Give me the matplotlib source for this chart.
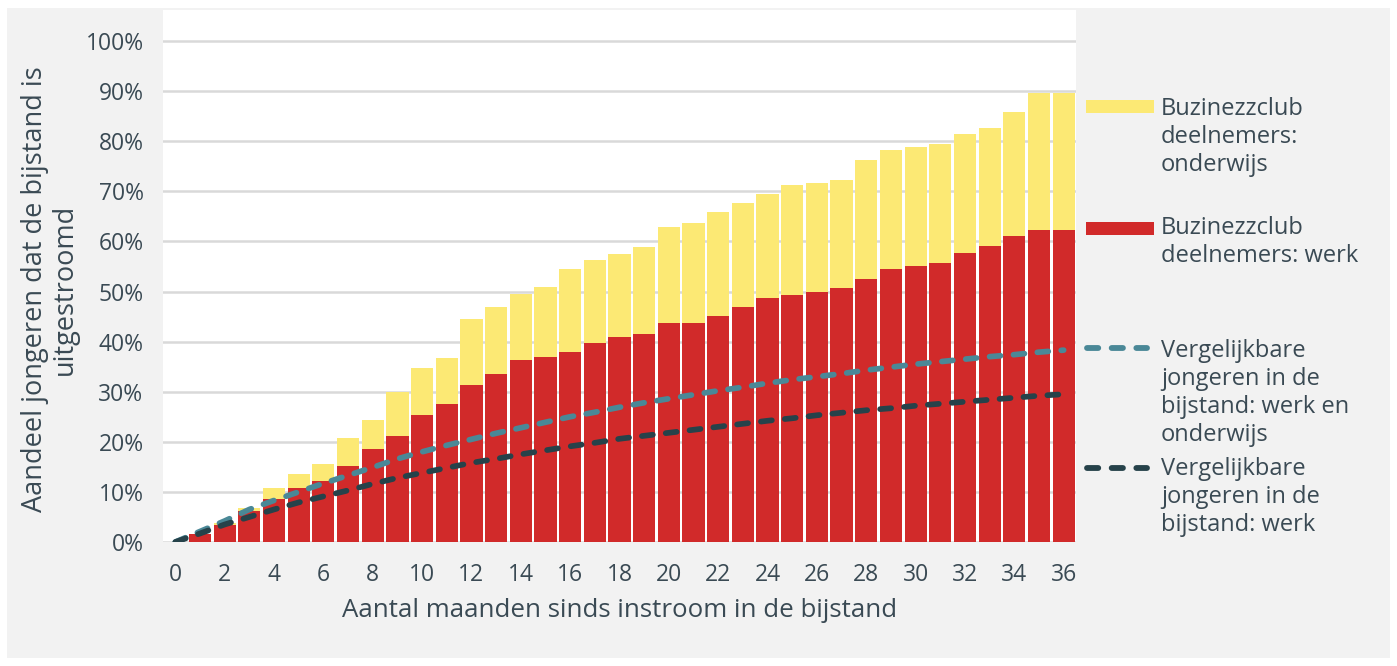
import matplotlib.pyplot as plt
from matplotlib.patches import Rectangle
from matplotlib.lines import Line2D

# months since entering welfare (bars start at month 1)
months = list(range(1, 37))
werk = [1.5, 3.3, 6.2, 8.6, 10.7, 12.2, 15.1, 18.6, 21.1, 25.4, 27.5, 31.3,
        33.5, 36.3, 36.9, 38.0, 39.7, 40.9, 41.5, 43.8, 43.8, 45.1, 46.9, 48.8,
        49.4, 50.0, 50.7, 52.6, 54.5, 55.1, 55.7, 57.7, 59.1, 61.0, 62.2, 62.2]
onderwijs = [0.0, 0.4, 0.5, 2.1, 2.9, 3.4, 5.7, 5.8, 8.8, 9.3, 9.3, 13.3,
             13.4, 13.3, 14.1, 16.4, 16.5, 16.5, 17.4, 19.0, 19.9, 20.7, 20.8, 20.7,
             21.8, 21.7, 21.6, 23.7, 23.7, 23.7, 23.8, 23.8, 23.6, 24.9, 27.5, 27.5]

# comparison group, months 0..36
line_months = list(range(0, 37))
verg_werk_onderwijs = [0, 2.1, 4.2, 6.5, 8.3, 10.0, 11.7, 13.3, 14.9, 16.6, 18.0, 19.3,
                       20.5, 21.7, 22.8, 23.9, 25.0, 25.9, 26.9, 27.8, 28.6, 29.4, 30.2,
                       30.9, 31.7, 32.4, 33.0, 33.6, 34.3, 34.9, 35.5, 36.0, 36.5, 37.0,
                       37.4, 37.9, 38.3]
verg_werk = [0, 1.7, 3.5, 5.0, 6.5, 7.9, 9.1, 10.3, 11.6, 12.8, 13.8, 14.8,
             15.8, 16.6, 17.5, 18.3, 19.1, 19.8, 20.6, 21.2, 21.8, 22.4, 23.0,
             23.6, 24.2, 24.7, 25.3, 25.8, 26.3, 26.7, 27.2, 27.6, 28.0, 28.4,
             28.8, 29.2, 29.5]

RED = '#d12a2a'
YELLOW = '#fce974'
TEAL = '#4a8897'
DARK = '#26424a'
TXT = '#3a4a54'
GRID = '#d9d9d9'

plt.rcParams['font.family'] = ['Open Sans', 'DejaVu Sans']

W, H = 1397, 666
fig = plt.figure(figsize=(W / 100, H / 100), dpi=100, facecolor='white')
fig.patches.append(Rectangle((7 / W, 8 / H), 1383 / W, 650 / H, transform=fig.transFigure,
                             facecolor='#f2f2f2', edgecolor='none', zorder=-10))

ax = fig.add_axes([163 / W, (H - 542) / H, 913 / W, 532 / H])
ax.set_facecolor('white')

ax.bar(months, werk, width=0.9, color=RED, zorder=2)
ax.bar(months, onderwijs, bottom=werk, width=0.9, color=YELLOW, zorder=2)

dash_kw = dict(linewidth=4.1, linestyle=(0, (1.93, 2.28)), dash_capstyle='round', zorder=3)
ax.plot(line_months, verg_werk_onderwijs, color=TEAL, **dash_kw)
ax.plot(line_months, verg_werk, color=DARK, **dash_kw)

ax.set_xlim(-0.5, 36.5)
ax.set_ylim(0, 106.2)
ax.set_yticks(range(0, 101, 10))
ax.set_yticklabels([f'{v}%' for v in range(0, 101, 10)])
ax.set_xticks(range(0, 37, 2))
ax.tick_params(length=0, labelsize=16.5, labelcolor=TXT)
ax.tick_params(axis='y', pad=14)
ax.tick_params(axis='x', pad=15)
ax.grid(axis='y', color=GRID, linewidth=1.8, zorder=0)
ax.set_axisbelow(True)
for s in ax.spines.values():
    s.set_visible(False)

ax.set_xlabel('Aantal maanden sinds instroom in de bijstand', fontsize=18.6,
              color=TXT, labelpad=8)
fig.text(50 / W, 1 - 289 / H, 'Aandeel jongeren dat de bijstand is\nuitgestroomd',
         rotation=90, ha='center', va='center', fontsize=19.5, color=TXT,
         linespacing=1.12)

# legend on the right, built by hand
def fx(px):
    return px / W


def fy(py):
    return 1 - py / H


fig.patches.append(Rectangle((fx(1086), fy(113)), 68 / W, 13 / H, transform=fig.transFigure,
                             facecolor=YELLOW, edgecolor='none'))
fig.patches.append(Rectangle((fx(1086), fy(235)), 68 / W, 13 / H, transform=fig.transFigure,
                             facecolor=RED, edgecolor='none'))
for y, c in [(348, TEAL), (468, DARK)]:
    fig.lines.append(Line2D([fx(1087), fx(1147)], [fy(y), fy(y)], transform=fig.transFigure,
                            color=c, linewidth=4.2, linestyle=(0, (1.93, 2.3)),
                            dash_capstyle='round'))

legend_texts = [
    (137, 'Buzinezzclub\ndeelnemers:\nonderwijs'),
    (242, 'Buzinezzclub\ndeelnemers: werk'),
    (393, 'Vergelijkbare\njongeren in de\nbijstand: werk en\nonderwijs'),
    (497, 'Vergelijkbare\njongeren in de\nbijstand: werk'),
]
for y, t in legend_texts:
    fig.text(fx(1161), fy(y), t, ha='left', va='center', fontsize=17, color=TXT,
             linespacing=1.22)

fig.savefig('out.png', dpi=100, facecolor='white')
